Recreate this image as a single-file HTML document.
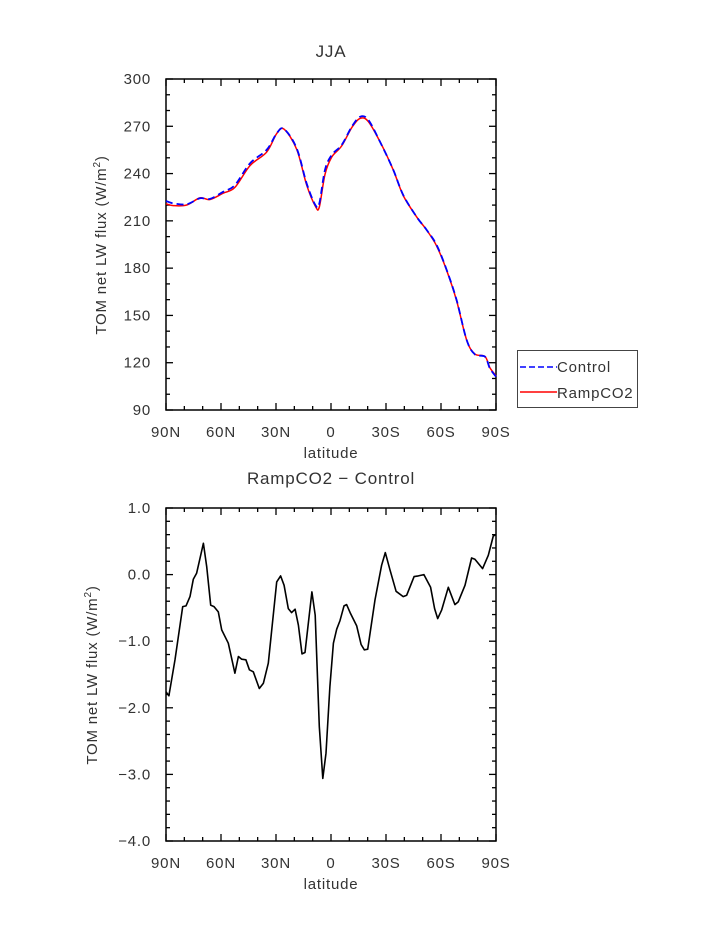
<!DOCTYPE html>
<html><head><meta charset="utf-8"><style>
html,body{margin:0;padding:0;background:#fff;}
svg{display:block;font-family:"Liberation Sans",sans-serif;}
svg text{letter-spacing:0.8px;}
</style></head><body>
<svg id="c" width="723" height="935" viewBox="0 0 723 935" xmlns="http://www.w3.org/2000/svg"></svg>
<script>
// Top panel data (JJA TOM net LW flux)
const ctlLat = [90,86,78.7,71.5,66,58.7,52.4,44.2,35.1,29.6,25.6,18.7,13.3,8.5,6.4,3.3,-0.4,-5.8,-11.3,-15.8,-20.4,-27.6,-34,-39.4,-46.7,-52.2,-57.6,-63.1,-68.5,-74,-78.5,-84,-86.7,-90];
const ctlVal = [222.6,221.1,220.5,224.3,223.9,228.5,232.7,246.5,255,265.5,268.3,256,233.8,220,221,242.3,251.8,258.1,269.7,276,274,258.1,242.3,226.4,212.6,204.2,194.7,178.8,159.8,134.4,125.3,123.8,116.4,111.1];
// Bottom panel data (RampCO2 - Control)
const diffLat = [90,88.4,85.1,80.9,79.1,76.9,75.1,73.3,69.6,67.8,65.6,63.8,61.5,59.6,56,52.4,50.5,48.7,46.4,44.5,42.4,39.1,36.9,34.2,29.6,27.5,25.6,23.3,21.5,19.6,17.8,15.8,14.2,10.4,8.6,6.4,4.5,2.7,0.6,-1.3,-3.1,-4.9,-7.1,-8.5,-10.4,-14,-16.4,-18.2,-20,-24,-27.6,-29.6,-32.2,-35.5,-39.4,-41.3,-45.3,-47.6,-50.7,-54.3,-56.5,-58.2,-60.4,-64,-67.6,-69.4,-73.1,-76.7,-78.5,-82.7,-85.8,-88.5,-90];
const diffVal = [-1.76,-1.82,-1.28,-0.48,-0.47,-0.33,-0.07,0.02,0.47,0.12,-0.46,-0.48,-0.56,-0.83,-1.03,-1.48,-1.23,-1.27,-1.28,-1.43,-1.46,-1.71,-1.63,-1.33,-0.11,-0.02,-0.16,-0.51,-0.57,-0.52,-0.76,-1.19,-1.17,-0.26,-0.61,-2.28,-3.06,-2.68,-1.68,-1.03,-0.82,-0.69,-0.47,-0.45,-0.57,-0.77,-1.05,-1.13,-1.12,-0.38,0.14,0.33,0.07,-0.25,-0.33,-0.31,-0.03,-0.02,0.0,-0.19,-0.51,-0.66,-0.53,-0.19,-0.45,-0.41,-0.16,0.25,0.23,0.09,0.29,0.58,0.60];
const xTickLabels = ["90N","60N","30N","0","30S","60S","90S"];
const xTickVals = [90,60,30,0,-30,-60,-90];
const topYTicks = [90,120,150,180,210,240,270,300];
const botYTicks = [-4,-3,-2,-1,0,1];
const botYLabels = ["\u22124.0","\u22123.0","\u22122.0","\u22121.0","0.0","1.0"];

function interp(lats, vals, l){
  for(let i=0;i<lats.length-1;i++){
    const a=lats[i],b=lats[i+1];
    if((l<=a&&l>=b)){const t=(a-b)===0?0:(a-l)/(a-b);return vals[i]+t*(vals[i+1]-vals[i]);}
  }
  return vals[vals.length-1];
}
// RampCO2 = Control + difference
const rampVal = ctlLat.map((l,i)=>ctlVal[i]+interp(diffLat,diffVal,l));

const svg=document.getElementById('c');
const NS="http://www.w3.org/2000/svg";
function mk(tag,attrs,parent){const e=document.createElementNS(NS,tag);for(const k in attrs)e.setAttribute(k,attrs[k]);(parent||svg).appendChild(e);return e;}
const L=166,R=496;
const xs=l=>L+(90-l)/180*(R-L);
const TC='#333';

function panel(top,bot,ymin,ymax,major,minor,yt,ylabels,name){
  const g=mk('g',{});
  
  
  const ys=v=>bot-(v-ymin)/(ymax-ymin)*(bot-top);
  const st={stroke:'#000','stroke-width':1.3};
  for(let v=ymin;v<=ymax+1e-9;v+=minor){
    const isMaj=Math.abs(v/major-Math.round(v/major))<1e-6;
    const len=isMaj?7:4;const y=ys(v);
    mk('line',Object.assign({x1:L,x2:L+len,y1:y,y2:y},st),g);
    mk('line',Object.assign({x1:R,x2:R-len,y1:y,y2:y},st),g);
  }
  for(let l=90;l>=-90;l-=10){
    const isMaj=l%30===0;const len=isMaj?7:4;const x=xs(l);
    mk('line',Object.assign({x1:x,x2:x,y1:top,y2:top+len},st),g);
    mk('line',Object.assign({x1:x,x2:x,y1:bot,y2:bot-len},st),g);
  }
  mk('rect',{x:L,y:top,width:R-L,height:bot-top,fill:'none',stroke:'#000','stroke-width':1.5},g);
  yt.forEach((v,i)=>{
    const t=mk('text',{x:151,y:ys(v)+5,'text-anchor':'end','font-size':15,fill:TC},g);
    t.textContent=ylabels[i];
    
    
  });
  xTickVals.forEach((l,i)=>{
    const t=mk('text',{x:xs(l),y:bot+27,'text-anchor':'middle','font-size':15,fill:TC},g);
    t.textContent=xTickLabels[i];
    
    
  });
  const xt=mk('text',{x:331,y:bot+48,'text-anchor':'middle','font-size':15,fill:TC},g);
  xt.textContent='latitude';
  
  
  return ys;
}
function path(lats,vals,ys,attrs,name,smooth){
  const P=lats.map((l,i)=>[xs(l),ys(vals[i])]);
  let d='M'+P[0][0].toFixed(1)+','+P[0][1].toFixed(1);
  for(let i=1;i<P.length;i++){
    if(smooth){
      const p0=P[Math.max(0,i-2)],p1=P[i-1],p2=P[i],p3=P[Math.min(P.length-1,i+1)];
      const c1=[p1[0]+(p2[0]-p0[0])/6,p1[1]+(p2[1]-p0[1])/6];
      const c2=[p2[0]-(p3[0]-p1[0])/6,p2[1]-(p3[1]-p1[1])/6];
      d+=' C'+c1[0].toFixed(1)+','+c1[1].toFixed(1)+' '+c2[0].toFixed(1)+','+c2[1].toFixed(1)+' '+p2[0].toFixed(1)+','+p2[1].toFixed(1);
    } else d+=' L'+P[i][0].toFixed(1)+','+P[i][1].toFixed(1);
  }
  const p=mk('path',Object.assign({d:d,fill:'none','stroke-linejoin':'round'},attrs));
  
  
}

const ys1=panel(79,410,90,300,30,10,topYTicks,topYTicks.map(String),'top-panel');
path(ctlLat,rampVal,ys1,{stroke:'#ff0000','stroke-width':1.5},'rampco2-line',true);
path(ctlLat,ctlVal,ys1,{stroke:'#0000ff','stroke-width':1.8,'stroke-dasharray':'7,4'},'control-line',true);
const ys2=panel(508,841,-4,1,1,0.2,botYTicks,botYLabels,'bottom-panel');
path(diffLat,diffVal,ys2,{stroke:'#000','stroke-width':1.6},'difference-line',false);

function txt(x,y,s,size,name,rot){
  const t=mk('text',{x:x,y:y,'text-anchor':'middle','font-size':size,fill:TC});
  if(rot)t.setAttribute('transform','rotate(-90 '+x+' '+y+')');
  t.textContent=s;
  
  
  return t;
}
txt(331,57,'JJA',17,'top-title');
txt(331,484,'RampCO2 \u2212 Control',17,'bottom-title');
const y1=txt(106,245,'',15,'top-y-axis-title',true);
y1.innerHTML='TOM net LW flux (W/m<tspan dy="-6" font-size="10">2</tspan><tspan dy="6">)</tspan>';
const y2=txt(97,675,'',15,'bottom-y-axis-title',true);
y2.innerHTML='TOM net LW flux (W/m<tspan dy="-6" font-size="10">2</tspan><tspan dy="6">)</tspan>';

const lg=mk('g',{});


mk('rect',{x:517.5,y:350.5,width:120,height:57,fill:'#fff',stroke:'#444','stroke-width':1},lg);
mk('line',{x1:520,x2:557,y1:367,y2:367,stroke:'#0000ff','stroke-width':1.5,'stroke-dasharray':'6,3'},lg);
mk('line',{x1:520,x2:557,y1:392,y2:392,stroke:'#ff0000','stroke-width':1.5},lg);
const t1=mk('text',{x:557,y:372,'font-size':15,fill:TC},lg);t1.textContent='Control';


const t2=mk('text',{x:557,y:398,'font-size':15,fill:TC},lg);t2.textContent='RampCO2';


</script>
</body></html>
